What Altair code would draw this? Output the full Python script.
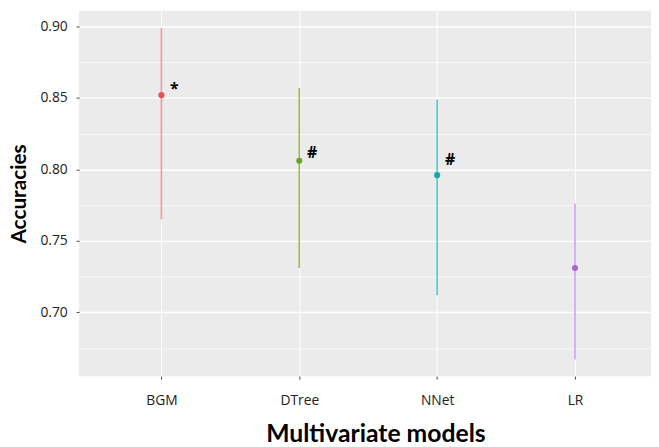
import altair as alt
import pandas as pd

models = ["BGM", "DTree", "NNet", "LR"]
acc_mean = [0.852, 0.806, 0.796, 0.731]
acc_low = [0.765, 0.731, 0.712, 0.667]
acc_high = [0.899, 0.857, 0.849, 0.776]
sig_marks = ["*", "#", "#", ""]
sig_y = [0.8565, 0.8113, 0.8067, None]
major_ticks = [0.70, 0.75, 0.80, 0.85, 0.90]
minor_ticks = [0.675, 0.725, 0.775, 0.825, 0.875]

line_colors = ["#F8766D", "#7CAE00", "#00BFC4", "#C77CFF"]
point_colors = ["#EF4E4E", "#67A32A", "#11A8B0", "#A866D0"]

df = pd.DataFrame({"model": models, "mean": acc_mean, "low": acc_low, "high": acc_high})
ann = pd.DataFrame({"model": models, "label": sig_marks, "y": sig_y}).dropna()

FONT = "Open Sans"
TFONT = "Lato"
ydomain = [0.6553, 0.9111]

xenc = alt.X(
    "model:N",
    sort=models,
    scale=alt.Scale(type="point", padding=0.574, align=0.52),
    axis=alt.Axis(
        title="Multivariate models",
        grid=True, gridColor="white", gridWidth=1.0,
        domain=False, ticks=True, tickColor="#444", tickSize=3, tickWidth=1,
        labelAngle=0, labelFontSize=14, labelColor="#222", labelPadding=15,
        labelFont=FONT, titleFont=TFONT, titleFontSize=25, titleFontWeight="bold",
        titleColor="black", titlePadding=14, titleX=300,
    ),
)

rules = alt.Chart(df).mark_rule(strokeWidth=1.6, opacity=0.75).encode(
    x=xenc,
    y=alt.Y("low:Q", scale=alt.Scale(domain=ydomain, nice=False, zero=False),
            axis=alt.Axis(orient="left", values=minor_ticks, grid=True, gridColor="white",
                          gridWidth=0.7, labels=False, ticks=False, domain=False, title=None)),
    y2="high:Q",
    color=alt.Color("model:N", scale=alt.Scale(domain=models, range=line_colors), legend=None),
)

points = alt.Chart(df).mark_circle(size=38, opacity=1).encode(
    x=alt.X("model:N", sort=models),
    y=alt.Y("mean:Q", scale=alt.Scale(domain=ydomain, nice=False, zero=False),
            axis=alt.Axis(orient="left", values=major_ticks, format=".2f", grid=True,
                          gridColor="white", gridWidth=1.4, domain=False, ticks=True,
                          tickColor="#444", tickSize=3, labelFontSize=14, labelColor="#222",
                          labelPadding=9, labelFont=FONT, title="Accuracies", titleFont=TFONT,
                          titleFontSize=21, titleFontWeight="bold", titleColor="black",
                          titlePadding=11)),
    color=alt.Color("model:N", scale=alt.Scale(domain=models, range=point_colors), legend=None),
)

texts = alt.Chart(ann).mark_text(
    dx=13, align="center", baseline="middle", fontSize=16, fontWeight="bold", font=FONT, color="black"
).encode(
    x=alt.X("model:N", sort=models),
    y=alt.Y("y:Q"),
    text="label:N",
)

chart = (
    alt.layer(rules, points, texts)
    .resolve_axis(y="independent")
    .resolve_scale(color="independent")
    .properties(
        width=579, height=370,
        padding={"left": 72, "top": 0, "right": 0, "bottom": 69},
        autosize=alt.AutoSizeParams(type="none"),
    )
    .configure_view(fill="#EBEBEB", stroke=None)
)

chart.save("out.html", embed_options={"renderer": "svg", "actions": False})
